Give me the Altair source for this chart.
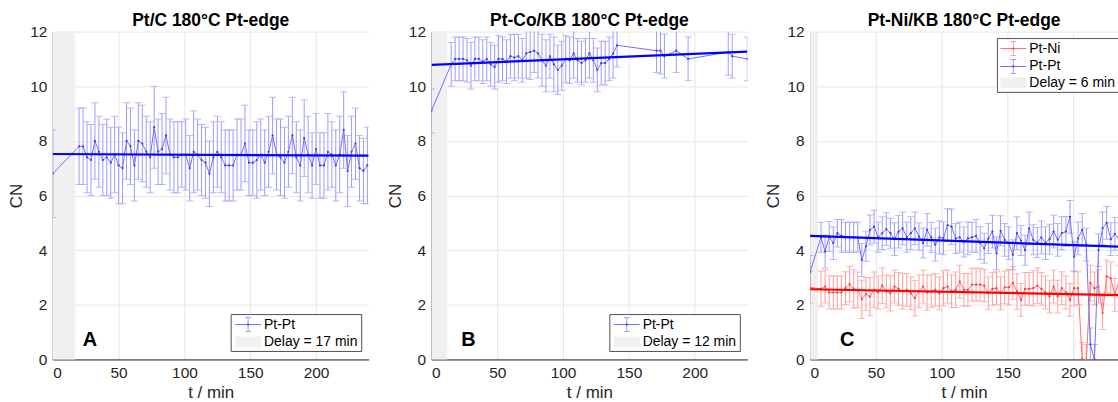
import altair as alt
import pandas as pd

FONT = "Liberation Sans"

# ---------------- Panel A : Pt/C ----------------
a_t = [0, 20, 23, 26, 29, 32, 35, 38, 41, 44, 47, 50, 53, 56, 59, 62, 65, 68, 71, 74, 77,
       80, 83, 86, 89, 92, 95, 98, 101, 104, 107, 110, 113, 116, 119, 122, 125, 128, 131,
       134, 137, 140, 143, 146, 149, 152, 155, 158, 161, 164, 167, 170, 173, 176, 179, 182,
       185, 188, 191, 194, 197, 200, 203, 206, 209, 212, 215, 218, 221, 224, 227, 230, 233,
       236, 239]
a_cn = [6.8,
        7.8, 7.8, 7.4, 7.3, 8.0, 7.6, 7.3, 7.4, 7.2, 7.5,
        7.1, 7.0, 8.0, 7.8, 7.1, 8.0, 7.9, 7.6, 7.4, 8.5,
        7.6, 7.7, 8.2, 7.5, 7.4, 7.4, 7.5, 7.5, 7.0, 7.6,
        7.5, 7.3, 7.2, 6.8, 7.4, 7.6, 7.4, 7.1, 7.1, 7.1,
        7.5, 7.5, 7.9, 7.2, 7.2, 7.3, 7.5, 7.2, 7.6, 8.2,
        7.5, 7.4, 7.2, 7.6, 8.2, 7.4, 7.1, 8.1, 7.5, 7.1,
        7.7, 7.1, 7.1, 7.6, 7.5, 7.1, 7.5, 8.4, 6.9, 7.6,
        7.9, 7.0, 6.9, 7.1]
a_err = [1.6,
         1.4, 1.4, 1.3, 1.3, 1.4, 1.3, 1.3, 1.4, 1.3, 1.4,
         1.4, 1.3, 1.4, 1.4, 1.3, 1.4, 1.4, 1.3, 1.3, 1.5,
         1.2, 1.3, 1.4, 1.3, 1.3, 1.3, 1.2, 1.3, 1.2, 1.5,
         1.3, 1.3, 1.3, 1.2, 1.3, 1.3, 1.3, 1.3, 1.3, 1.3,
         1.3, 1.3, 1.4, 1.2, 1.2, 1.4, 1.3, 1.2, 1.3, 1.4,
         1.3, 1.4, 1.3, 1.3, 1.4, 1.3, 1.3, 1.4, 1.4, 1.2,
         1.3, 1.2, 1.2, 1.4, 1.2, 1.3, 1.4, 1.4, 1.3, 1.3,
         1.3, 1.2, 1.2, 1.4]
a_fit_t = [0, 240]
a_fit_cn = [7.52, 7.46]
a_delay = 17

# ---------------- Panel B : Pt-Co/KB ----------------
b_t = [0, 15, 18, 21, 24, 27, 30, 33, 36, 39, 42, 45, 48, 51, 54, 57, 60, 63, 66, 69, 72,
       75, 78, 81, 84, 87, 90, 93, 96, 99, 102, 105, 108, 111, 114, 117, 120, 123, 126, 129,
       132, 135, 138, 141, 171, 174, 177, 186, 195, 225.5, 228.5, 240]
b_cn = [9.1,
        10.8, 11.0, 11.0, 11.0, 10.95, 10.75, 11.0, 11.0, 10.9, 11.0,
        10.8, 10.7, 11.0, 11.0, 10.9, 11.1, 11.05, 11.1, 10.95, 11.2,
        11.25, 11.3, 11.2, 10.95, 10.75, 11.1, 10.8, 10.6, 10.75, 11.0,
        10.95, 11.2, 10.95, 10.85, 10.95, 11.2, 10.95, 10.6, 10.85, 10.85,
        11.0, 11.2, 11.5,
        11.3, 11.3, 11.1, 11.3, 11.0, 11.25, 11.1, 11.0]
b_err = [0.8,
         0.8, 0.8, 0.8, 0.8, 0.8, 0.85, 0.8, 0.8, 0.8, 0.8,
         0.8, 0.8, 0.85, 0.8, 0.8, 0.8, 0.85, 0.8, 0.8, 0.9,
         1.0, 0.8, 0.9, 0.95, 0.95, 0.8, 1.0, 0.9, 0.9, 0.85,
         0.85, 0.9, 0.8, 0.8, 0.8, 0.9, 0.8, 0.8, 0.8, 0.8,
         0.8, 0.9, 0.8,
         0.8, 0.85, 0.8, 0.8, 0.8, 0.85, 0.8, 0.8]
b_fit_t = [0, 240]
b_fit_cn = [10.78, 11.27]
b_delay = 12

# ---------------- Panel C : Pt-Ni/KB ----------------
c_t = [0, 8.3, 11.4, 14.5, 17.6, 20.7, 23.8, 26.9, 30.0, 33.1, 36.2, 39.3, 42.4, 45.5, 48.6,
       51.7, 54.8, 57.9, 61.0, 64.1, 67.2, 70.3, 73.4, 76.5, 79.6, 82.7, 85.8, 88.9, 92.0,
       95.1, 98.2, 101.3, 104.4, 107.5, 110.6, 113.7, 116.8, 119.9, 123.0, 126.1, 129.2,
       132.3, 135.4, 138.5, 141.6, 144.7, 147.8, 150.9, 154.0, 157.1, 160.2, 163.3, 166.4,
       169.5, 172.6, 175.7, 178.8, 181.9, 185.0, 188.1, 191.2, 194.3, 197.4, 200.5, 203.6,
       206.7, 209.8, 212.9, 216.0, 219.1, 222.2, 225.3, 228.4, 231.5, 234.6, 237.7]
c_ptpt = [3.2,
          4.47, 3.95, 4.5, 4.26, 4.62, 4.52, 4.47, 4.47, 4.47, 4.47,
          3.64, 4.14, 4.74, 4.86, 4.47, 4.62, 4.77, 4.62, 4.4, 4.68,
          4.8, 4.47, 4.62, 4.8, 4.5, 4.26, 4.74, 4.47, 4.2, 4.47,
          4.43, 4.92, 4.86, 4.43, 4.47, 4.3,
          4.43, 4.47, 4.52, 4.26, 4.07, 4.43, 4.68, 3.88, 4.71, 4.38,
          4.26, 3.83, 4.62, 4.35, 4.0, 4.8, 4.38, 4.28, 4.47, 4.26,
          4.4, 4.68, 4.38, 4.62, 4.68, 5.22, 3.76, 4.43, 4.74, 4.2,
          0.55, 0.0, 4.0, 4.8, 5.0, 4.4, 4.6, 4.4, 4.5]
c_ptpt_err = [0.6,
              0.55, 0.6, 0.55, 0.6, 0.5, 0.6, 0.55, 0.55, 0.55, 0.55,
              0.6, 0.55, 0.55, 0.6, 0.55, 0.6, 0.6, 0.55, 0.6, 0.6,
              0.6, 0.55, 0.6, 0.6, 0.5, 0.55, 0.6, 0.55, 0.6, 0.6,
              0.6, 0.6, 0.65, 0.55, 0.55, 0.55, 0.6, 0.55, 0.6, 0.6,
              0.55, 0.55, 0.6, 0.6, 0.55, 0.6, 0.6, 0.55, 0.6, 0.55,
              0.55, 0.6, 0.55, 0.55, 0.6, 0.6, 0.55, 0.6, 0.6, 0.6,
              0.55, 0.6, 0.55, 0.6, 0.6, 0.6, 0.6, 0.55, 0.6, 0.6,
              0.6, 0.6, 0.6, 0.6, 0.55]
c_ptni = [2.64,
          2.58, 2.67, 2.45, 2.45, 2.45, 2.45, 2.61, 2.76, 2.58, 2.55,
          2.2, 2.39, 2.3, 2.55, 2.45, 2.7, 2.49, 2.42, 2.67, 2.58,
          2.49, 2.55, 2.42, 2.24, 2.49, 2.67, 2.45, 2.49, 2.55, 2.42,
          2.61, 2.67, 2.49, 2.55, 2.85, 2.55,
          2.55, 2.74, 2.74, 2.74, 2.7, 2.42, 2.58, 2.61, 2.42, 2.64,
          2.64, 2.8, 2.49, 2.18, 2.58, 2.58, 2.61, 2.7, 2.58, 2.45,
          2.3, 2.67, 2.3, 2.61, 2.45, 2.18, 2.61, 2.61, 0.02,
          -0.05, 2.8, 2.6, 2.67, 1.7, 3.04, 2.97, 2.36, 2.85, 3.0]
c_ptni_err = [0.6,
              0.65, 0.6, 0.6, 0.6, 0.6, 0.6, 0.6, 0.65, 0.7, 0.65,
              0.7, 0.6, 0.7, 0.65, 0.6, 0.65, 0.6, 0.65, 0.6, 0.6,
              0.65, 0.6, 0.6, 0.65, 0.6, 0.6, 0.65, 0.6, 0.6, 0.6,
              0.65, 0.6, 0.6, 0.65, 0.6, 0.6, 0.6, 0.6, 0.6, 0.6,
              0.6, 0.6, 0.6, 0.6, 0.6, 0.6, 0.65, 0.6, 0.65, 0.6,
              0.6, 0.6, 0.65, 0.65, 0.6, 0.6, 0.6, 0.6, 0.6, 0.6,
              0.6, 0.6, 0.65, 0.6, 0.6, 0.6, 0.65, 0.6, 0.6, 0.6,
              0.6, 0.6, 0.6, 0.6, 0.6]
c_fit_t = [0, 240]
c_fit_ptpt = [4.52, 4.12]
c_fit_ptni = [2.57, 2.35]
c_delay = 6

BLUE = dict(bar="#9c9cff", line="#6e6eff", dot="#3a3aff", fit="#0000ff")
RED = dict(bar="#ff9c9c", line="#ff6e6e", dot="#ff3a3a", fit="#ff0000")

W, H = 317, 329
X_TICKS = [0, 50, 100, 150, 200]
Y_TICKS = [0, 2, 4, 6, 8, 10, 12]


def xenc(field, xmax):
    return alt.X(f"{field}:Q", scale=alt.Scale(domain=[0, xmax], nice=False, zero=False),
                 axis=alt.Axis(values=X_TICKS, title="t / min"), title="t / min")


def yenc(field):
    return alt.Y(f"{field}:Q", scale=alt.Scale(domain=[0, 12], nice=False),
                 axis=alt.Axis(values=Y_TICKS, title="CN"), title="CN")


one = pd.DataFrame({"k": [0]})


def series_layers(t, cn, err, col, xmax):
    df = pd.DataFrame({"t": t, "cn": cn, "err": err})
    df["lo"] = df["cn"] - df["err"]
    df["hi"] = df["cn"] + df["err"]
    base = alt.Chart(df)
    bars = base.mark_rule(color=col["bar"], strokeWidth=1, clip=True).encode(
        x=xenc("t", xmax), y=yenc("lo"), y2="hi")
    cap_lo = base.mark_tick(color=col["bar"], orient="horizontal", size=7, thickness=1,
                            clip=True).encode(x=xenc("t", xmax), y=yenc("lo"))
    cap_hi = base.mark_tick(color=col["bar"], orient="horizontal", size=7, thickness=1,
                            clip=True).encode(x=xenc("t", xmax), y=yenc("hi"))
    line = base.mark_line(color=col["line"], strokeWidth=1, clip=True).encode(
        x=xenc("t", xmax), y=yenc("cn"))
    dots = base.mark_circle(color=col["dot"], size=5, opacity=1, clip=True).encode(
        x=xenc("t", xmax), y=yenc("cn"))
    return [bars, cap_lo, cap_hi, line, dots]


def fit_layer(t, v, col, xmax):
    df = pd.DataFrame({"t": t, "cn": v})
    return alt.Chart(df).mark_line(color=col["fit"], strokeWidth=2.2, clip=True).encode(
        x=xenc("t", xmax), y=yenc("cn"))


def shade_layer(delay, xmax):
    df = pd.DataFrame({"t0": [0], "t1": [delay]})
    return alt.Chart(df).mark_rect(color="#f0f0f0").encode(
        x=xenc("t0", xmax), x2="t1", y=alt.value(0), y2=alt.value(H))


def legend_errsym(x0, yc, col):
    c = alt.Chart(one)
    xm = x0 + 13
    return [
        c.mark_rule(color=col["line"], strokeWidth=1).encode(
            x=alt.value(x0), x2=alt.value(x0 + 26), y=alt.value(yc)),
        c.mark_rule(color=col["bar"], strokeWidth=1).encode(
            x=alt.value(xm), y=alt.value(yc - 7), y2=alt.value(yc + 7)),
        c.mark_rule(color=col["bar"], strokeWidth=1).encode(
            x=alt.value(xm - 3), x2=alt.value(xm + 3), y=alt.value(yc - 7)),
        c.mark_rule(color=col["bar"], strokeWidth=1).encode(
            x=alt.value(xm - 3), x2=alt.value(xm + 3), y=alt.value(yc + 7)),
        c.mark_circle(color=col["dot"], size=5, opacity=1).encode(
            x=alt.value(xm), y=alt.value(yc)),
    ]


def legend_text(x, y, txt):
    return alt.Chart(one).mark_text(text=txt, align="left", baseline="middle", font=FONT,
                                    fontSize=14, color="#000000").encode(
        x=alt.value(x), y=alt.value(y))


def legend_box(x0, x1, y0, y1):
    return alt.Chart(one).mark_rect(fill="white", stroke="#262626", strokeWidth=0.8,
                                    clip=True).encode(
        x=alt.value(x0), x2=alt.value(x1), y=alt.value(y0), y2=alt.value(y1))


def legend_patch(x0, y0, y1):
    return alt.Chart(one).mark_rect(color="#f0f0f0").encode(
        x=alt.value(x0), x2=alt.value(x0 + 26), y=alt.value(y0), y2=alt.value(y1))


def letter(txt):
    return alt.Chart(one).mark_text(text=txt, align="left", baseline="alphabetic", font=FONT,
                                    fontSize=20, fontWeight="bold", color="#000000").encode(
        x=alt.value(30), y=alt.value(316))


def simple_panel(title, let, t, cn, err, fit_t, fit_v, delay):
    xmax = 240
    layers = [shade_layer(delay, xmax)]
    layers += series_layers(t, cn, err, BLUE, xmax)
    layers.append(fit_layer(fit_t, fit_v, BLUE, xmax))
    layers.append(legend_box(179, 310, 284, 321))
    layers += legend_errsym(183, 294, BLUE)
    layers.append(legend_text(212, 294, "Pt-Pt"))
    layers.append(legend_patch(183, 306, 317))
    layers.append(legend_text(212, 311.5, f"Delay = {delay} min"))
    layers.append(letter(let))
    return alt.layer(*layers).properties(width=W, height=H, title=title)


pA = simple_panel("Pt/C 180°C Pt-edge", "A", a_t, a_cn, a_err, a_fit_t, a_fit_cn, a_delay)
pB = simple_panel("Pt-Co/KB 180°C Pt-edge", "B", b_t, b_cn, b_err, b_fit_t, b_fit_cn, b_delay)

c_xmax = 233.9
layersC = [shade_layer(c_delay, c_xmax)]
layersC += series_layers(c_t, c_ptni, c_ptni_err, RED, c_xmax)
layersC += series_layers(c_t, c_ptpt, c_ptpt_err, BLUE, c_xmax)
layersC.append(fit_layer(c_fit_t, c_fit_ptni, RED, c_xmax))
layersC.append(fit_layer(c_fit_t, c_fit_ptpt, BLUE, c_xmax))
layersC.append(legend_box(188, 330, 7, 61))
layersC += legend_errsym(191, 17, RED)
layersC.append(legend_text(220, 17, "Pt-Ni"))
layersC += legend_errsym(191, 35, BLUE)
layersC.append(legend_text(220, 35, "Pt-Pt"))
layersC.append(legend_patch(191, 46, 57))
layersC.append(legend_text(220, 52, f"Delay = {c_delay} min"))
layersC.append(letter("C"))
pC = alt.layer(*layersC).properties(width=309, height=H, title="Pt-Ni/KB 180°C Pt-edge")

chart = alt.hconcat(pA, pB, pC, spacing=17).properties(
    padding={"left": 7, "top": 11, "right": 0, "bottom": 0}
).configure_view(stroke=None).configure_axis(
    labelFont=FONT, labelFontSize=15.5, labelColor="#262626", labelPadding=6,
    titleFont=FONT, titleFontSize=17, titleFontWeight="normal", titleColor="#262626",
    titlePadding=4, ticks=False, domainColor="#262626", domainWidth=1,
    gridColor="#e6e6e6", gridWidth=1,
).configure_title(
    font=FONT, fontSize=17.5, fontWeight="bold", color="#000000", offset=-5
)

chart.save("out.html", embed_options={"renderer": "svg", "actions": False})
